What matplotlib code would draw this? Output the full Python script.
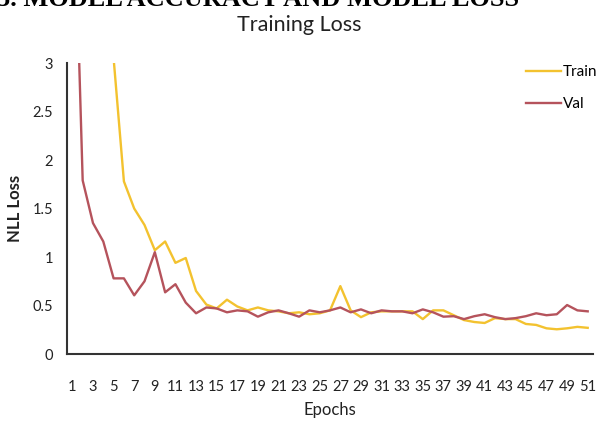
import numpy as np
import matplotlib
matplotlib.use("Agg")
import matplotlib.pyplot as plt

# values (epochs 1..51); early points run off the top
epochs = list(range(1, 52))
train = [6.0, 5.2, 4.5, 3.8, 3.05, 1.78, 1.5, 1.33, 1.07, 1.16,
         0.94, 0.99, 0.65, 0.51, 0.47, 0.56, 0.49, 0.45, 0.48, 0.45,
         0.44, 0.42, 0.43, 0.41, 0.42, 0.45, 0.70, 0.45, 0.38, 0.43,
         0.44, 0.44, 0.44, 0.44, 0.36, 0.45, 0.45, 0.40, 0.35, 0.33,
         0.32, 0.37, 0.36, 0.36, 0.31, 0.30, 0.265, 0.255, 0.265, 0.28,
         0.27]
val = [5.4, 1.79, 1.35, 1.16, 0.78, 0.78, 0.605, 0.75, 1.05, 0.636,
       0.72, 0.53, 0.42, 0.48, 0.47, 0.43, 0.45, 0.44, 0.385, 0.43,
       0.45, 0.42, 0.385, 0.45, 0.43, 0.45, 0.48, 0.43, 0.46, 0.42,
       0.45, 0.44, 0.44, 0.42, 0.46, 0.43, 0.385, 0.39, 0.36, 0.39,
       0.41, 0.38, 0.36, 0.37, 0.39, 0.42, 0.40, 0.41, 0.505, 0.45,
       0.44]
yticks = [0, 0.5, 1, 1.5, 2, 2.5, 3]
ytick_labels = ["0", "0.5", "1", "1.5", "2", "2.5", "3"]

TRAIN_C = "#F3C22F"
VAL_C = "#B5535C"
FONT = "Lato"

fig = plt.figure(figsize=(5.98, 4.21), dpi=100)
ax = fig.add_axes([0.1124, 0.1591, 0.879, 0.6912])

ax.plot(epochs, train, color=TRAIN_C, lw=1.7, label="Train")
ax.plot(epochs, val, color=VAL_C, lw=1.7, label="Val")

ax.set_xlim(0.5, 51.5)
ax.set_ylim(0, 3)
ax.set_xticks(epochs[::2])
ax.set_xticklabels([str(e) for e in epochs[::2]], fontsize=10.5, family=FONT)
ax.set_yticks(yticks)
ax.set_yticklabels(ytick_labels, fontsize=10.5, family=FONT)
ax.tick_params(axis="both", length=0, colors="#222222")
ax.tick_params(axis="x", pad=19)
ax.tick_params(axis="y", pad=10)

for s in ("top", "right"):
    ax.spines[s].set_visible(False)
for s in ("left", "bottom"):
    ax.spines[s].set_color("#333333")
    ax.spines[s].set_linewidth(1.5)

ax.set_xlabel("Epochs", fontsize=12, family=FONT, color="#222222")
ax.xaxis.set_label_coords(0.5, -0.165)
ax.set_ylabel("NLL Loss", fontsize=12, family=FONT, fontweight="bold", color="#222222")
ax.yaxis.set_label_coords(-0.085, 0.5)

leg = ax.legend(loc="upper right", bbox_to_anchor=(1.035, 1.04), frameon=False,
                prop={"family": FONT, "size": 11}, handlelength=2.3,
                handletextpad=0.1, labelspacing=1.2)

fig.text(0.5, 1 - 25 / 421, "Training Loss", ha="center", va="center",
         fontsize=15.5, family=FONT, color="#222222")
# cut-off heading from the page above the chart
fig.text(519 / 598, 1 - 6 / 421, "5. MODEL ACCURACY AND MODEL LOSS", ha="right",
         va="baseline", fontsize=19, family="Liberation Serif", fontweight="bold")

fig.savefig("out.png", dpi=100)
